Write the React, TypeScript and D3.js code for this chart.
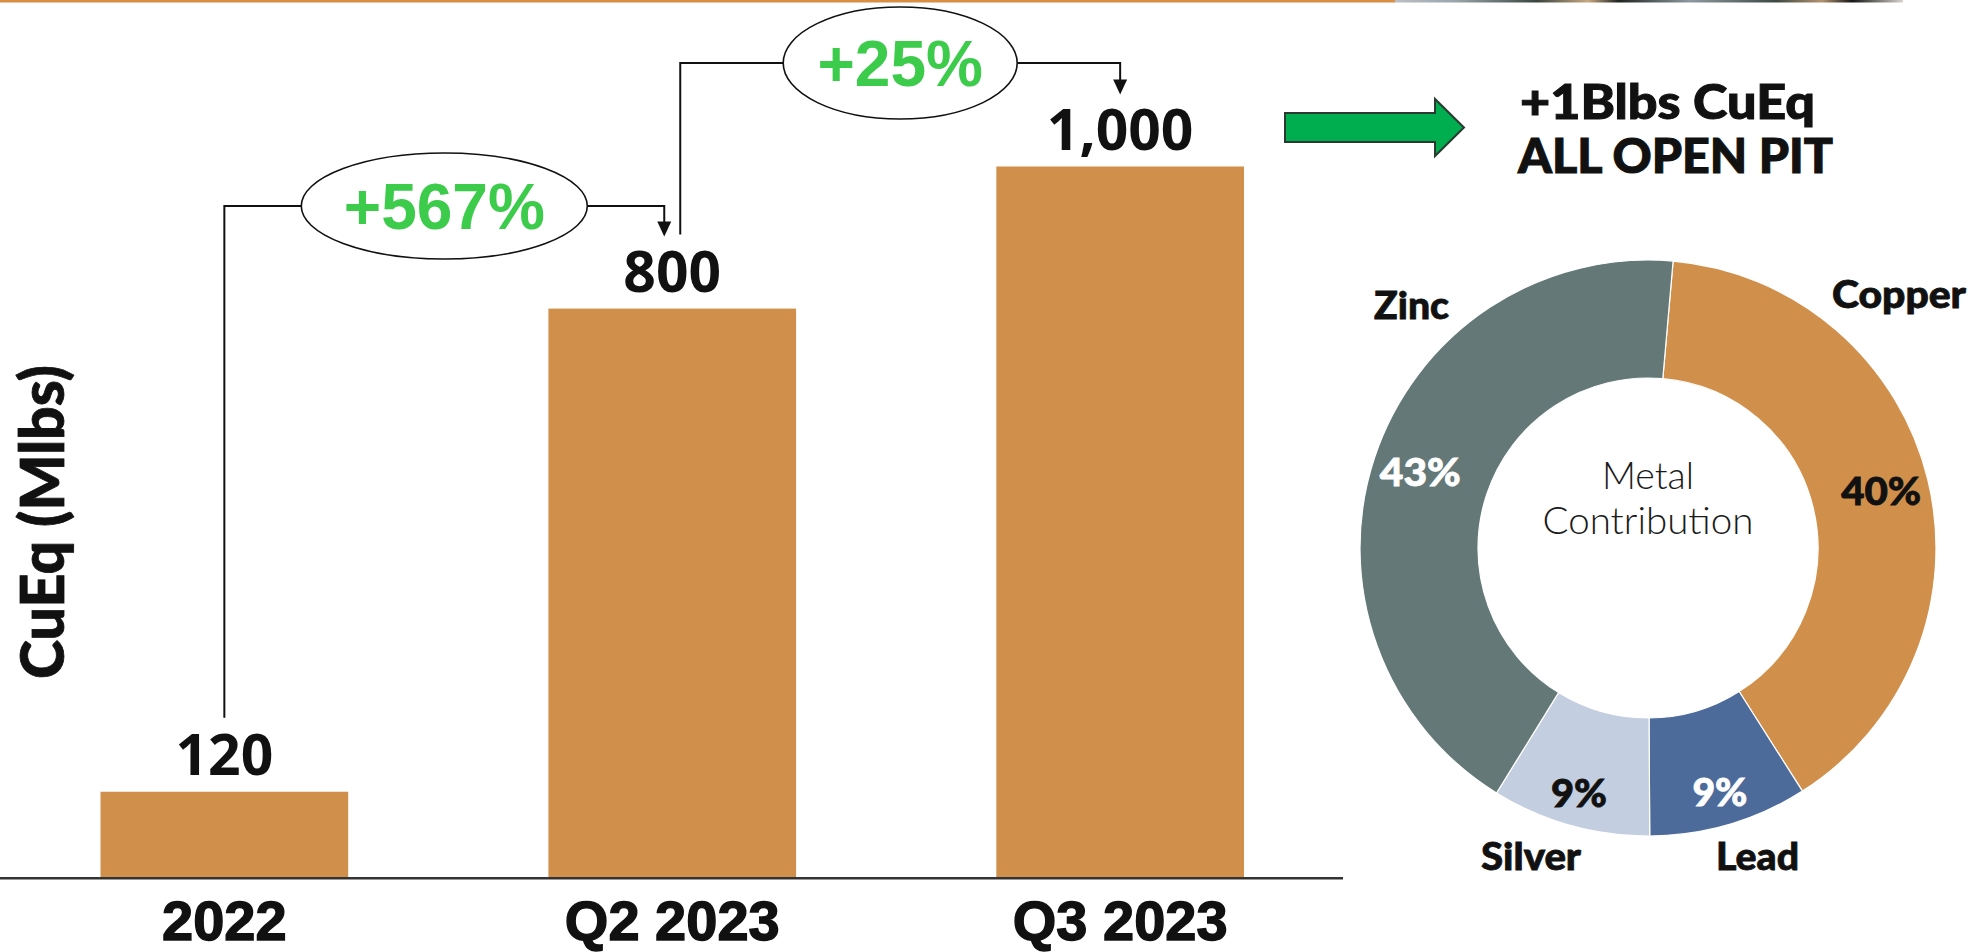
import React from 'react';
import * as d3 from 'd3';

// ---------- data ----------
const categories = ['2022', 'Q2 2023', 'Q3 2023'];
const production = [120, 800, 1000];
const valueLabels = ['120', '800', '1,000'];
const growthLabels = ['+567%', '+25%'];
const metals = ['Copper', 'Lead', 'Silver', 'Zinc'];
const metalShares = [40, 9, 9, 43];
const metalShareLabels = ['40%', '9%', '9%', '43%'];
const yAxisTitle = 'CuEq (Mlbs)';
const headline = ['+1Blbs CuEq', 'ALL OPEN PIT'];
const centerText = ['Metal', 'Contribution'];

const W = 1971;
const H = 952;

export default function App() {
  const x = d3
    .scaleBand<string>()
    .domain(categories)
    .range([100.5, 1244])
    .paddingInner(0.447)
    .paddingOuter(0);
  const y = d3.scaleLinear().domain([0, 1000]).range([877, 166.5]);
  const cx = (i: number) => (x(categories[i]) as number) + x.bandwidth() / 2;

  // bracket annotation layout
  const bracketLevels = [206, 63];
  const ellipseRx = [143, 117];
  const ellipseRy = [53, 56];

  // donut
  const pcx = 1648;
  const pcy = 548;
  const rOuter = 288;
  const rInner = 170;
  const start = (5 * Math.PI) / 180;
  const pie = d3
    .pie<number>()
    .sort(null)
    .value((d) => d)
    .startAngle(start)
    .endAngle(start + Math.PI * 2);
  const arcs = pie(metalShares);
  const arc = d3.arc<d3.PieArcDatum<number>>().innerRadius(rInner).outerRadius(rOuter);
  const metalColors: Record<string, string> = {
    Copper: '#D0904C',
    Lead: '#4D6B9A',
    Silver: '#C3CEE0',
    Zinc: '#647878',
  };
  const pctColors: Record<string, string> = {
    Copper: '#111111',
    Lead: '#ffffff',
    Silver: '#111111',
    Zinc: '#ffffff',
  };
  const nameLayout: Record<string, { dx: number; dy: number; w: number }> = {
    Zinc: { dx: -236.5, dy: -229, w: 75 },
    Copper: { dx: 251, dy: -240, w: 134 },
    Silver: { dx: -117, dy: 322, w: 100 },
    Lead: { dx: 109.5, dy: 322, w: 83 },
  };
  const pctWidths: Record<string, number> = { Copper: 80, Lead: 55, Silver: 56, Zinc: 81 };

  const geo = "Lato, 'Open Sans', sans-serif";
  const arial = "'Liberation Sans', Arial, sans-serif";

  return (
    <svg
      width={W}
      height={H}
      viewBox={`0 0 ${W} ${H}`}
      style={{ position: 'absolute', left: 0, top: 0, display: 'block', background: '#fff' }}
    >
      <defs>
        <linearGradient id="strip" x1="0" x2="1" y1="0" y2="0">
          <stop offset="0" stopColor="#b9c0c6" />
          <stop offset="0.12" stopColor="#9aa4aa" />
          <stop offset="0.28" stopColor="#3a4440" />
          <stop offset="0.38" stopColor="#c9aa82" />
          <stop offset="0.44" stopColor="#1e2420" />
          <stop offset="0.58" stopColor="#8e9aa0" />
          <stop offset="0.75" stopColor="#3c4845" />
          <stop offset="0.84" stopColor="#b49470" />
          <stop offset="0.9" stopColor="#161616" />
          <stop offset="1" stopColor="#d8d4cc" />
        </linearGradient>
      </defs>

      {/* top decoration */}
      <rect x={0} y={0} width={1395} height={2.5} fill="#D98E45" />
      <rect x={1395} y={0} width={508} height={2.5} fill="url(#strip)" />

      {/* bars */}
      {production.map((v, i) => (
        <rect
          key={categories[i]}
          x={x(categories[i])}
          y={y(v)}
          width={x.bandwidth()}
          height={y(0) - y(v)}
          fill="#D0904C"
        />
      ))}

      {/* baseline axis */}
      <line x1={0} x2={1343} y1={y(0) + 1.2} y2={y(0) + 1.2} stroke="#333" strokeWidth={2.5} />

      {/* value labels */}
      {production.map((v, i) => (
        <text
          key={'v' + i}
          x={cx(i)}
          y={y(v) - 16.5}
          textAnchor="middle"
          fontFamily="'Open Sans', sans-serif"
          fontWeight={700}
          fontSize={57}
          fill="#111"
        >
          {valueLabels[i]}
        </text>
      ))}

      {/* category labels */}
      {categories.map((c, i) => (
        <text
          key={'c' + i}
          x={cx(i)}
          y={940}
          textAnchor="middle"
          fontFamily={arial}
          fontWeight={700}
          fontSize={56}
          fill="#111"
          stroke="#111"
          strokeWidth={1.4}
        >
          {c}
        </text>
      ))}

      {/* y axis title */}
      <text
        transform={`translate(64, 522) rotate(-90)`}
        textAnchor="middle"
        fontFamily={geo}
        fontWeight={900}
        fontSize={60}
        fill="#111"
        stroke="#111"
        strokeWidth={0.8}
        textLength={314}
        lengthAdjust="spacingAndGlyphs"
      >
        {yAxisTitle}
      </text>

      {/* growth brackets */}
      {growthLabels.map((g, i) => {
        const sx = cx(i) + (i > 0 ? 8 : 0);
        const ex = cx(i + 1) - (i + 1 < categories.length - 1 ? 8 : 0);
        const level = bracketLevels[i];
        const ecx = (sx + ex) / 2;
        const rx = ellipseRx[i];
        const ry = ellipseRy[i];
        const sy = y(production[i]) - 74;
        const tip = y(production[i + 1]) - 72;
        const path = `M${sx},${sy}V${level}H${ecx - rx}M${ecx + rx},${level}H${ex}V${tip - 14}`;
        return (
          <g key={'g' + i}>
            <path d={path} fill="none" stroke="#111" strokeWidth={2} />
            <polygon points={`${ex - 7},${tip - 15} ${ex + 7},${tip - 15} ${ex},${tip}`} fill="#111" />
            <ellipse cx={ecx} cy={level} rx={rx} ry={ry} fill="#fff" stroke="#111" strokeWidth={1.6} />
            <text
              x={ecx}
              y={level + 23}
              textAnchor="middle"
              fontFamily={arial}
              fontWeight={700}
              fontSize={64}
              fill="#3CCB4B"
            >
              {g}
            </text>
          </g>
        );
      })}

      {/* green arrow */}
      <polygon
        points="1285,113 1435,113 1435,99 1464,127.5 1435,156 1435,142 1285,142"
        fill="#00AE4F"
        stroke="#2a3a30"
        strokeWidth={2}
        strokeLinejoin="miter"
      />

      {/* headline */}
      <text x={1520} y={119} fontFamily={geo} fontWeight={900} fontSize={47} fill="#111" stroke="#111" strokeWidth={1} textLength={295} lengthAdjust="spacingAndGlyphs">
        {headline[0]}
      </text>
      <text x={1518} y={172.5} fontFamily={geo} fontWeight={900} fontSize={47} fill="#111" stroke="#111" strokeWidth={1} textLength={315} lengthAdjust="spacingAndGlyphs">
        {headline[1]}
      </text>

      {/* donut */}
      <g transform={`translate(${pcx},${pcy})`}>
        {arcs.map((a, i) => (
          <path key={metals[i]} d={arc(a) as string} fill={metalColors[metals[i]]} stroke="#fff" strokeWidth={1.2} />
        ))}
        {arcs.map((a, i) => {
          const r = metalShares[i] < 15 ? 255 : 240;
          const [lx, ly] = d3.arc<d3.PieArcDatum<number>>().innerRadius(r).outerRadius(r).centroid(a);
          const m = metals[i];
          return (
            <text
              key={'p' + i}
              x={lx}
              y={ly + 13.5}
              textAnchor="middle"
              fontFamily={geo}
              fontWeight={900}
              fontSize={38}
              fill={pctColors[m]}
              stroke={pctColors[m]}
              strokeWidth={0.8}
              textLength={pctWidths[m]}
              lengthAdjust="spacingAndGlyphs"
            >
              {metalShareLabels[i]}
            </text>
          );
        })}
        {metals.map((m) => {
          const L = nameLayout[m];
          return (
            <text
              key={'n' + m}
              x={L.dx}
              y={L.dy}
              textAnchor="middle"
              fontFamily={geo}
              fontWeight={900}
              fontSize={38}
              fill="#111"
              stroke="#111"
              strokeWidth={0.8}
              textLength={L.w}
              lengthAdjust="spacingAndGlyphs"
            >
              {m}
            </text>
          );
        })}
        <text x={0} y={-59.5} textAnchor="middle" fontFamily={geo} fontWeight={300} fontSize={38} fill="#1a1a1a" textLength={92} lengthAdjust="spacingAndGlyphs">
          {centerText[0]}
        </text>
        <text x={0} y={-14} textAnchor="middle" fontFamily={geo} fontWeight={300} fontSize={38} fill="#1a1a1a" textLength={211} lengthAdjust="spacingAndGlyphs">
          {centerText[1]}
        </text>
      </g>
    </svg>
  );
}
